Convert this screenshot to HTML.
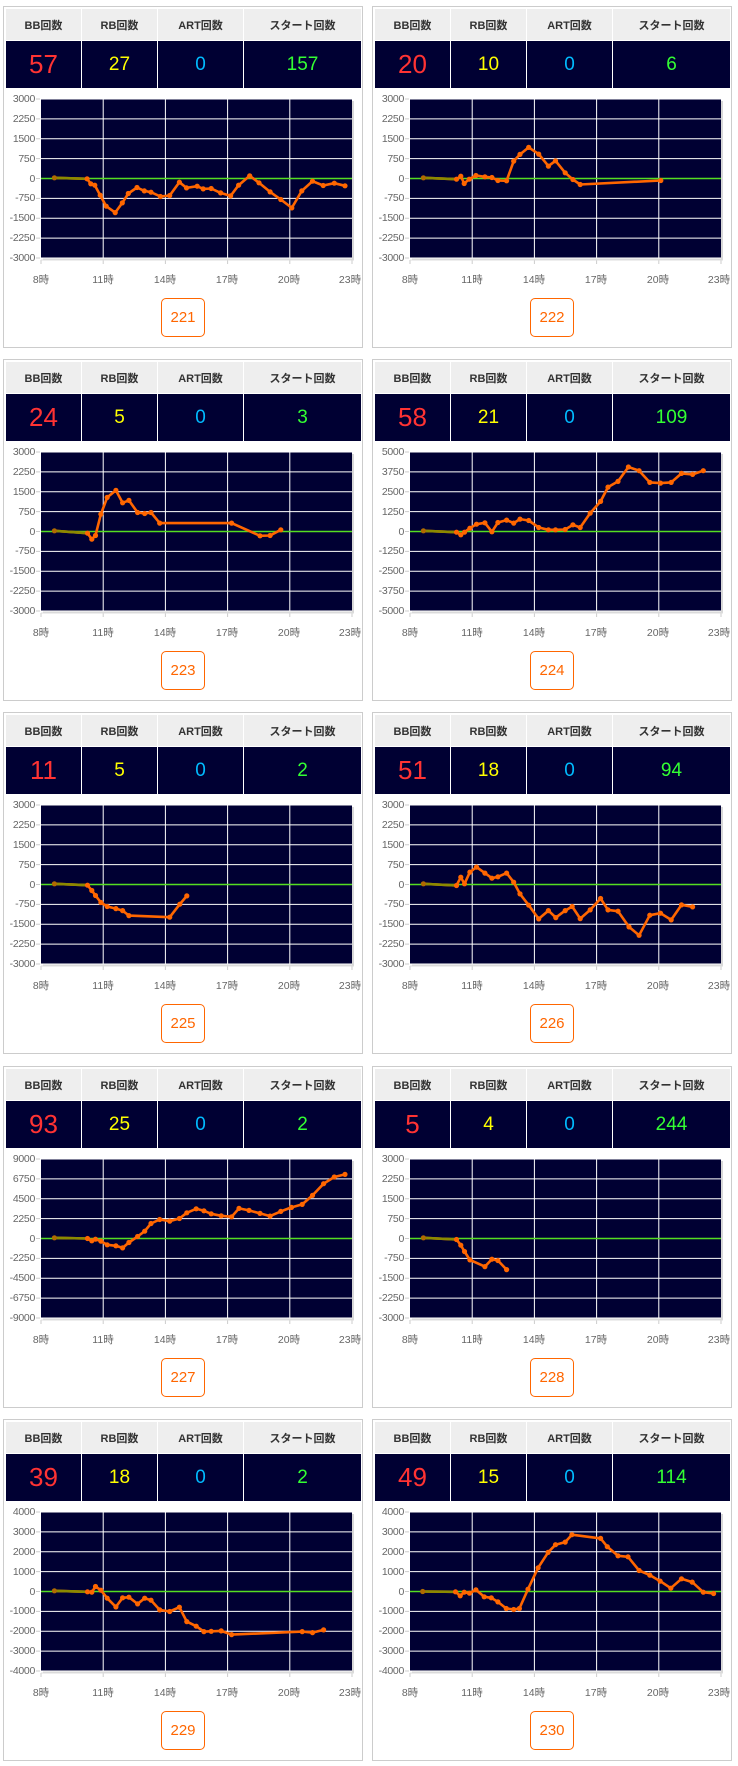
<!DOCTYPE html>
<html><head><meta charset="utf-8">
<style>
body{margin:0;background:#fff;width:738px;height:1766px;position:relative;overflow:hidden;font-family:"Liberation Sans","Noto Sans CJK JP",sans-serif}
.card{position:absolute;width:358px;height:340px;border:1px solid #ccc;background:#fff}
.card svg{position:absolute;left:0;top:0}
table{position:absolute;left:1px;top:1px;width:357px;border-collapse:collapse;table-layout:fixed}
th{height:31px;background:#eee;font-size:11px;font-weight:bold;color:#333;border:1px solid #fff;padding:0}
td{height:47px;background:#000033;border:1px solid #fff;text-align:center;padding:0;font-size:19px}
.c1{width:75px}.c2{width:75px}.c3{width:85px}
.r{color:#ff3333;font-size:26px}.y{color:#ffff00}.b{color:#00bbff}.g{color:#33ff33}
.yl{position:absolute;left:0;top:83px;width:31px;text-align:right;font-size:10.5px;line-height:19.875px;color:#666;letter-spacing:-0.3px}
.xl span{position:absolute;top:265px;font-size:10.5px;color:#666;transform:translateX(-50%);white-space:nowrap}
.btn{position:absolute;left:157px;top:291px;width:42px;height:37px;border:1px solid #ff6600;border-radius:5px;color:#ff6600;font-size:15px;line-height:37px;text-align:center}
</style></head><body>

<div class="card" style="left:3px;top:6px"><svg id="s0" width="358" height="340"></svg>
<table><tr><th class="c1">BB回数</th><th class="c2">RB回数</th><th class="c3">ART回数</th><th>スタート回数</th></tr><tr><td class="r">57</td><td class="y">27</td><td class="b">0</td><td class="g">157</td></tr></table>
<div class="yl">3000<br>2250<br>1500<br>750<br>0<br>-750<br>-1500<br>-2250<br>-3000</div>
<div class="xl"><span style="left:37px">8時</span><span style="left:99px">11時</span><span style="left:161px">14時</span><span style="left:223px">17時</span><span style="left:285px">20時</span><span style="left:346px">23時</span></div>
<div class="btn">221</div></div>

<div class="card" style="left:372px;top:6px"><svg id="s1" width="358" height="340"></svg>
<table><tr><th class="c1">BB回数</th><th class="c2">RB回数</th><th class="c3">ART回数</th><th>スタート回数</th></tr><tr><td class="r">20</td><td class="y">10</td><td class="b">0</td><td class="g">6</td></tr></table>
<div class="yl">3000<br>2250<br>1500<br>750<br>0<br>-750<br>-1500<br>-2250<br>-3000</div>
<div class="xl"><span style="left:37px">8時</span><span style="left:99px">11時</span><span style="left:161px">14時</span><span style="left:223px">17時</span><span style="left:285px">20時</span><span style="left:346px">23時</span></div>
<div class="btn">222</div></div>

<div class="card" style="left:3px;top:359px"><svg id="s2" width="358" height="340"></svg>
<table><tr><th class="c1">BB回数</th><th class="c2">RB回数</th><th class="c3">ART回数</th><th>スタート回数</th></tr><tr><td class="r">24</td><td class="y">5</td><td class="b">0</td><td class="g">3</td></tr></table>
<div class="yl">3000<br>2250<br>1500<br>750<br>0<br>-750<br>-1500<br>-2250<br>-3000</div>
<div class="xl"><span style="left:37px">8時</span><span style="left:99px">11時</span><span style="left:161px">14時</span><span style="left:223px">17時</span><span style="left:285px">20時</span><span style="left:346px">23時</span></div>
<div class="btn">223</div></div>

<div class="card" style="left:372px;top:359px"><svg id="s3" width="358" height="340"></svg>
<table><tr><th class="c1">BB回数</th><th class="c2">RB回数</th><th class="c3">ART回数</th><th>スタート回数</th></tr><tr><td class="r">58</td><td class="y">21</td><td class="b">0</td><td class="g">109</td></tr></table>
<div class="yl">5000<br>3750<br>2500<br>1250<br>0<br>-1250<br>-2500<br>-3750<br>-5000</div>
<div class="xl"><span style="left:37px">8時</span><span style="left:99px">11時</span><span style="left:161px">14時</span><span style="left:223px">17時</span><span style="left:285px">20時</span><span style="left:346px">23時</span></div>
<div class="btn">224</div></div>

<div class="card" style="left:3px;top:712px"><svg id="s4" width="358" height="340"></svg>
<table><tr><th class="c1">BB回数</th><th class="c2">RB回数</th><th class="c3">ART回数</th><th>スタート回数</th></tr><tr><td class="r">11</td><td class="y">5</td><td class="b">0</td><td class="g">2</td></tr></table>
<div class="yl">3000<br>2250<br>1500<br>750<br>0<br>-750<br>-1500<br>-2250<br>-3000</div>
<div class="xl"><span style="left:37px">8時</span><span style="left:99px">11時</span><span style="left:161px">14時</span><span style="left:223px">17時</span><span style="left:285px">20時</span><span style="left:346px">23時</span></div>
<div class="btn">225</div></div>

<div class="card" style="left:372px;top:712px"><svg id="s5" width="358" height="340"></svg>
<table><tr><th class="c1">BB回数</th><th class="c2">RB回数</th><th class="c3">ART回数</th><th>スタート回数</th></tr><tr><td class="r">51</td><td class="y">18</td><td class="b">0</td><td class="g">94</td></tr></table>
<div class="yl">3000<br>2250<br>1500<br>750<br>0<br>-750<br>-1500<br>-2250<br>-3000</div>
<div class="xl"><span style="left:37px">8時</span><span style="left:99px">11時</span><span style="left:161px">14時</span><span style="left:223px">17時</span><span style="left:285px">20時</span><span style="left:346px">23時</span></div>
<div class="btn">226</div></div>

<div class="card" style="left:3px;top:1066px"><svg id="s6" width="358" height="340"></svg>
<table><tr><th class="c1">BB回数</th><th class="c2">RB回数</th><th class="c3">ART回数</th><th>スタート回数</th></tr><tr><td class="r">93</td><td class="y">25</td><td class="b">0</td><td class="g">2</td></tr></table>
<div class="yl">9000<br>6750<br>4500<br>2250<br>0<br>-2250<br>-4500<br>-6750<br>-9000</div>
<div class="xl"><span style="left:37px">8時</span><span style="left:99px">11時</span><span style="left:161px">14時</span><span style="left:223px">17時</span><span style="left:285px">20時</span><span style="left:346px">23時</span></div>
<div class="btn">227</div></div>

<div class="card" style="left:372px;top:1066px"><svg id="s7" width="358" height="340"></svg>
<table><tr><th class="c1">BB回数</th><th class="c2">RB回数</th><th class="c3">ART回数</th><th>スタート回数</th></tr><tr><td class="r">5</td><td class="y">4</td><td class="b">0</td><td class="g">244</td></tr></table>
<div class="yl">3000<br>2250<br>1500<br>750<br>0<br>-750<br>-1500<br>-2250<br>-3000</div>
<div class="xl"><span style="left:37px">8時</span><span style="left:99px">11時</span><span style="left:161px">14時</span><span style="left:223px">17時</span><span style="left:285px">20時</span><span style="left:346px">23時</span></div>
<div class="btn">228</div></div>

<div class="card" style="left:3px;top:1419px"><svg id="s8" width="358" height="340"></svg>
<table><tr><th class="c1">BB回数</th><th class="c2">RB回数</th><th class="c3">ART回数</th><th>スタート回数</th></tr><tr><td class="r">39</td><td class="y">18</td><td class="b">0</td><td class="g">2</td></tr></table>
<div class="yl">4000<br>3000<br>2000<br>1000<br>0<br>-1000<br>-2000<br>-3000<br>-4000</div>
<div class="xl"><span style="left:37px">8時</span><span style="left:99px">11時</span><span style="left:161px">14時</span><span style="left:223px">17時</span><span style="left:285px">20時</span><span style="left:346px">23時</span></div>
<div class="btn">229</div></div>

<div class="card" style="left:372px;top:1419px"><svg id="s9" width="358" height="340"></svg>
<table><tr><th class="c1">BB回数</th><th class="c2">RB回数</th><th class="c3">ART回数</th><th>スタート回数</th></tr><tr><td class="r">49</td><td class="y">15</td><td class="b">0</td><td class="g">114</td></tr></table>
<div class="yl">4000<br>3000<br>2000<br>1000<br>0<br>-1000<br>-2000<br>-3000<br>-4000</div>
<div class="xl"><span style="left:37px">8時</span><span style="left:99px">11時</span><span style="left:161px">14時</span><span style="left:223px">17時</span><span style="left:285px">20時</span><span style="left:346px">23時</span></div>
<div class="btn">230</div></div>

<script>
var D=[
[123,297,[[163,533],[261,536],[272,551],[284,555],[300,585],[318,618],[345,637],[366,608],[384,580],[410,562],[432,572],[452,576],[480,589],[508,586],[537,546],[558,563],[590,558],[608,566],[632,565],[660,578],[690,587],[714,555],[747,527],[775,548],[808,575],[840,598],[873,623],[903,572],[935,543],[967,556],[1000,549],[1032,557]]],
[33,12,[[73,248],[172,252],[185,243],[195,265],[210,252],[230,241],[257,245],[278,247],[296,256],[322,257],[343,198],[362,178],[388,157],[418,177],[447,213],[468,197],[497,233],[520,253],[542,268],[783,256]]],
[33,12,[[73,248],[172,255],[185,273],[196,262],[212,198],[231,148],[257,127],[277,164],[296,157],[322,193],[343,196],[362,193],[388,225],[603,225],[688,263],[718,262],[750,245]]],
[33,12,[[73,248],[172,252],[185,260],[196,252],[212,240],[232,228],[257,224],[278,251],[296,223],[322,216],[343,225],[362,213],[388,217],[418,238],[447,245],[468,245],[497,244],[520,230],[542,238],[572,195],[603,160],[625,117],[655,100],[686,57],[718,68],[750,103],[782,105],[814,103],[845,76],[878,79],[910,68]]],
[33,12,[[73,248],[172,252],[185,268],[196,283],[212,304],[231,316],[257,322],[277,328],[296,343],[418,348],[448,309],[469,284]]],
[33,12,[[73,248],[172,253],[185,228],[196,248],[212,213],[232,198],[257,216],[278,231],[296,227],[322,216],[343,243],[362,278],[388,312],[418,353],[447,328],[469,349],[497,328],[518,316],[542,352],[572,326],[603,292],[625,326],[655,330],[688,377],[718,402],[750,342],[782,336],[814,356],[845,311],[878,317]]],
[33,12,[[73,248],[172,250],[185,257],[196,252],[212,258],[231,269],[257,272],[277,278],[296,262],[322,244],[343,228],[362,205],[388,193],[418,198],[447,190],[469,173],[497,161],[520,167],[542,176],[572,182],[603,185],[625,160],[655,166],[688,175],[718,183],[750,169],[782,157],[814,148],[845,121],[878,86],[910,66],[942,58]]],
[33,12,[[73,248],[172,253],[185,270],[196,289],[212,314],[257,334],[278,312],[296,316],[322,343]]],
[33,12,[[73,248],[172,251],[185,252],[196,235],[212,246],[231,270],[257,296],[277,269],[296,267],[322,287],[343,270],[362,276],[388,305],[418,310],[447,297],[469,340],[497,354],[520,370],[542,369],[572,368],[603,379],[814,370],[845,373],[878,365]]],
[130,332,[[168,570],[266,571],[280,583],[292,572],[308,575],[327,565],[352,586],[373,589],[393,601],[418,621],[440,624],[457,621],[483,563],[513,499],[543,453],[565,430],[594,422],[614,400],[700,411],[720,436],[752,463],[782,466],[815,507],[847,521],[878,539],[910,560],[942,532],[974,542],[1007,572],[1038,576]]]
];
var PX=37,PY=92,PW=311,PH=159;
D.forEach(function(d,i){
 var s='';
 s+='<rect x="'+(PX+2)+'" y="'+(PY+2)+'" width="'+PW+'" height="'+PH+'" fill="#d8d8d8"/>';
 s+='<rect x="'+PX+'" y="'+PY+'" width="'+PW+'" height="'+PH+'" fill="#000033"/>';
 for(var k=0;k<=8;k++){var y=PY+k*PH/8;s+='<line x1="'+PX+'" x2="'+(PX+PW)+'" y1="'+y+'" y2="'+y+'" stroke="#fff" stroke-width="1"/>';
  s+='<line x1="'+(PX-5)+'" x2="'+(PX-1)+'" y1="'+y+'" y2="'+y+'" stroke="#ccc"/>';}
 for(var k=0;k<=5;k++){var x=PX+k*PW/5;if(k>0&&k<5)s+='<line x1="'+x+'" x2="'+x+'" y1="'+PY+'" y2="'+(PY+PH)+'" stroke="#fff"/>';
  s+='<line x1="'+x+'" x2="'+x+'" y1="'+(PY+PH+2)+'" y2="'+(PY+PH+6)+'" stroke="#ccc"/>';}
 s+='<line x1="'+(PX)+'" x2="'+(PX+PW+2)+'" y1="'+(PY+PH+2)+'" y2="'+(PY+PH+2)+'" stroke="#ddd"/>';
 s+='<line x1="'+PX+'" x2="'+(PX+PW)+'" y1="'+(PY+PH/2)+'" y2="'+(PY+PH/2)+'" stroke="#55dd22" stroke-width="1.5"/>';
 var pts=d[2].map(function(p){return [PX+(p[0]-d[0])/930*PW,PY+(p[1]-d[1])/476*PH];});
 s+='<polyline fill="none" stroke="#ff6600" stroke-width="2.6" stroke-linejoin="round" points="'+pts.map(function(p){return p[0].toFixed(1)+','+p[1].toFixed(1)}).join(' ')+'"/>';
 s+='<line x1="'+pts[0][0]+'" y1="'+pts[0][1]+'" x2="'+pts[1][0]+'" y2="'+pts[1][1]+'" stroke="#8a8a00" stroke-width="2.6"/>';
 pts.forEach(function(p,j){s+='<circle cx="'+p[0].toFixed(1)+'" cy="'+p[1].toFixed(1)+'" r="2.6" fill="'+(j==0?'#b06a00':'#ff6600')+'"/>';});
 document.getElementById('s'+i).innerHTML=s;
});
</script>
</body></html>
